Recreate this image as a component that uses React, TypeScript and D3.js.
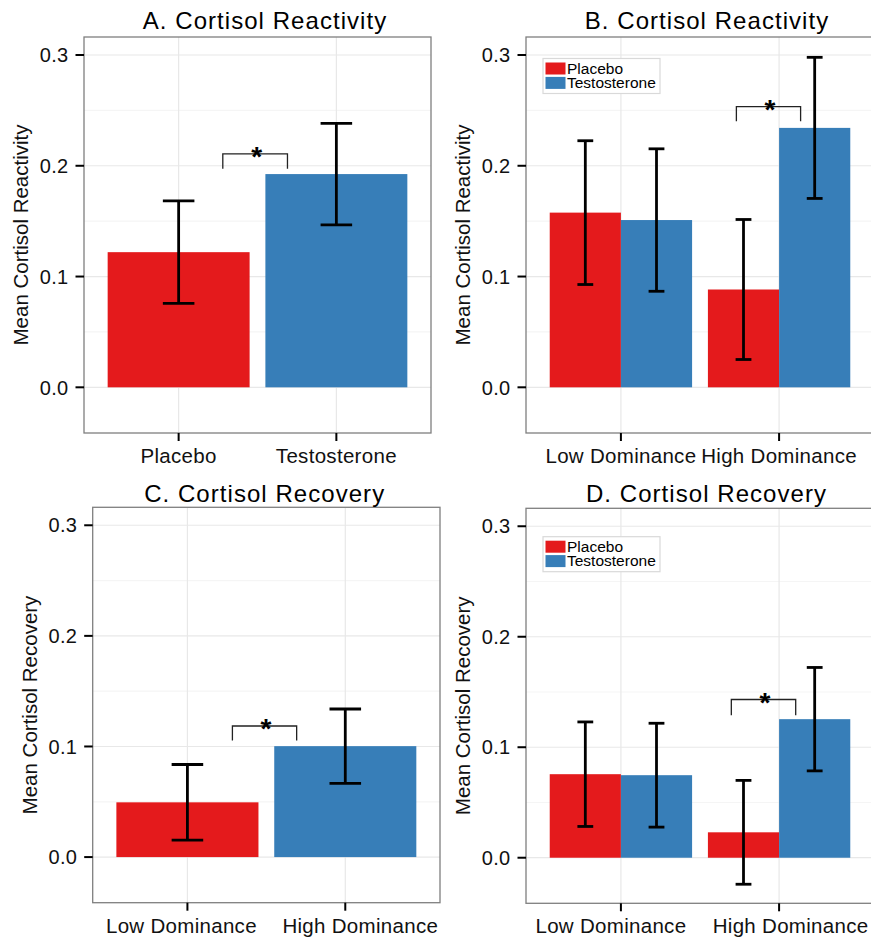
import React from "react";
import * as d3 from "d3";

// ---------- data ----------
const panelTitles = [
  "A. Cortisol Reactivity",
  "B. Cortisol Reactivity",
  "C. Cortisol Recovery",
  "D. Cortisol Recovery",
];
const yTitles = [
  "Mean Cortisol Reactivity",
  "Mean Cortisol Reactivity",
  "Mean Cortisol Recovery",
  "Mean Cortisol Recovery",
];
const yTicks = [0, 0.1, 0.2, 0.3];
const yMinor = [0.05, 0.15, 0.25];
const yLimits = [-0.025, 0.3];
const treatments = ["Placebo", "Testosterone"];
const dominance = ["Low Dominance", "High Dominance"];

// Panel A: by treatment
const aMeans = [0.122, 0.1925];
const aErrors = [0.0463, 0.0458];
// Panel B: dominance x treatment
const bPlacebo = [0.1577, 0.0883];
const bTestosterone = [0.151, 0.2342];
const bPlaceboErr = [0.0649, 0.0632];
const bTestosteroneErr = [0.0643, 0.0637];
// Panel C: by dominance
const cMeans = [0.0495, 0.1003];
const cErrors = [0.0342, 0.0336];
// Panel D: dominance x treatment
const dPlacebo = [0.0756, 0.023];
const dTestosterone = [0.0747, 0.1254];
const dPlaceboErr = [0.0473, 0.047];
const dTestosteroneErr = [0.047, 0.0468];

// significance brackets [x1, x2, yTop, yLeg] in data units
const brackets = [
  [1.28, 1.69, 0.2108, 0.1973],
  [1.73, 2.136, 0.2534, 0.2402],
  [1.285, 1.692, 0.1185, 0.1053],
  [1.698, 2.105, 0.1432, 0.129],
];

const colors = ["#E41A1C", "#377EB8"];
const FONT = "'Liberation Sans', Arial, Helvetica, sans-serif";

// ---------- layout ----------
const panels = [
  { left: 84, right: 431, top: 37, bottom: 433, tx: 265, ty: 28.5, ytx: 20, legend: null, lshift: [0, 0] },
  { left: 526, right: 874, top: 37, bottom: 433, tx: 707, ty: 29.3, ytx: 462, legend: [543, 58.5], lshift: [0, 0] },
  { left: 92.7, right: 440, top: 507.3, bottom: 902.7, tx: 264.7, ty: 501.7, ytx: 29, legend: null, lshift: [-6, 15] },
  { left: 526, right: 874, top: 508.3, bottom: 903.3, tx: 706.5, ty: 501.7, ytx: 462, legend: [543, 536.7], lshift: [-10, 11.5] },
];

type Bar = { x: number; w: number; v: number; e: number; c: string };

function buildBars(i: number): { bars: Bar[]; cats: string[]; capW: number } {
  if (i === 0)
    return {
      cats: treatments,
      capW: 0.2,
      bars: aMeans.map((v, k) => ({ x: k + 1, w: 0.9, v, e: aErrors[k], c: colors[k] })),
    };
  if (i === 2)
    return {
      cats: dominance,
      capW: 0.2,
      bars: cMeans.map((v, k) => ({ x: k + 1, w: 0.9, v, e: cErrors[k], c: colors[k] })),
    };
  const pl = i === 1 ? bPlacebo : dPlacebo;
  const te = i === 1 ? bTestosterone : dTestosterone;
  const ple = i === 1 ? bPlaceboErr : dPlaceboErr;
  const tee = i === 1 ? bTestosteroneErr : dTestosteroneErr;
  const bars: Bar[] = [];
  dominance.forEach((_, k) => {
    bars.push({ x: k + 1 - 0.225, w: 0.45, v: pl[k], e: ple[k], c: colors[0] });
    bars.push({ x: k + 1 + 0.225, w: 0.45, v: te[k], e: tee[k], c: colors[1] });
  });
  return { cats: dominance, capW: 0.1, bars };
}

function Panel({ i }: { i: number }) {
  const p = panels[i];
  const span = yLimits[1] - yLimits[0];
  const y = d3
    .scaleLinear()
    .domain([yLimits[0] - span * 0.05, yLimits[1] + span * 0.05])
    .range([p.bottom, p.top]);
  const x = d3.scaleLinear().domain([0.4, 2.6]).range([p.left, p.right]);
  const { bars, cats, capW } = buildBars(i);
  const br = brackets[i];
  const cy = (p.top + p.bottom) / 2;
  return (
    <g>
      {/* panel background + grid */}
      <rect x={p.left} y={p.top} width={p.right - p.left} height={p.bottom - p.top} fill="#fff" />
      {yMinor.map((t) => (
        <line key={"m" + t} x1={p.left} x2={p.right} y1={y(t)} y2={y(t)} stroke="#f5f5f5" strokeWidth={1.2} />
      ))}
      {yTicks.map((t) => (
        <line key={"g" + t} x1={p.left} x2={p.right} y1={y(t)} y2={y(t)} stroke="#e8e8e8" strokeWidth={1.2} />
      ))}
      {cats.map((c, k) => (
        <line key={"v" + c} x1={x(k + 1)} x2={x(k + 1)} y1={p.top} y2={p.bottom} stroke="#e8e8e8" strokeWidth={1.2} />
      ))}
      {/* bars */}
      {bars.map((b, k) => (
        <rect
          key={"b" + k}
          x={x(b.x - b.w / 2)}
          width={x(b.x + b.w / 2) - x(b.x - b.w / 2)}
          y={Math.min(y(b.v), y(0))}
          height={Math.abs(y(0) - y(b.v))}
          fill={b.c}
        />
      ))}
      {/* error bars */}
      {bars.map((b, k) => (
        <g key={"e" + k} stroke="#000" strokeWidth={2.8} fill="none">
          <line x1={x(b.x)} x2={x(b.x)} y1={y(b.v + b.e)} y2={y(b.v - b.e)} />
          <line x1={x(b.x - capW / 2)} x2={x(b.x + capW / 2)} y1={y(b.v + b.e)} y2={y(b.v + b.e)} />
          <line x1={x(b.x - capW / 2)} x2={x(b.x + capW / 2)} y1={y(b.v - b.e)} y2={y(b.v - b.e)} />
        </g>
      ))}
      {/* significance bracket */}
      <path
        d={`M${x(br[0])},${y(br[3])}V${y(br[2])}H${x(br[1])}V${y(br[3])}`}
        fill="none"
        stroke="#222"
        strokeWidth={1.3}
      />
      <text
        x={(x(br[0]) + x(br[1])) / 2 + 1.5}
        y={y(br[2]) + 12}
        textAnchor="middle"
        fontFamily={FONT}
        fontWeight="bold"
        fontSize={28}
        fill="#000"
      >
        *
      </text>
      {/* border */}
      <rect
        x={p.left}
        y={p.top}
        width={p.right - p.left}
        height={p.bottom - p.top}
        fill="none"
        stroke="#7f7f7f"
        strokeWidth={1.3}
      />
      {/* y axis */}
      {yTicks.map((t) => (
        <g key={"yt" + t}>
          <line x1={p.left - 8.5} x2={p.left} y1={y(t)} y2={y(t)} stroke="#000" strokeWidth={2} />
          <text
            x={p.left - 15.5}
            y={y(t)}
            dy="0.36em"
            textAnchor="end"
            fontFamily={FONT}
            fontSize={20}
            letterSpacing={0.3}
            fill="#111"
          >
            {d3.format(".1f")(t)}
          </text>
        </g>
      ))}
      {/* x axis */}
      {cats.map((c, k) => (
        <g key={"xt" + c}>
          <line x1={x(k + 1)} x2={x(k + 1)} y1={p.bottom} y2={p.bottom + 8} stroke="#000" strokeWidth={2} />
          <text
            x={x(k + 1) + p.lshift[k]}
            y={p.bottom + 30}
            textAnchor="middle"
            fontFamily={FONT}
            fontSize={20.5}
            letterSpacing={0.3}
            fill="#111"
          >
            {c}
          </text>
        </g>
      ))}
      {/* titles */}
      <text
        x={p.tx}
        y={p.ty}
        textAnchor="middle"
        fontFamily={FONT}
        fontSize={24}
        letterSpacing={1.05}
        fill="#000"
      >
        {panelTitles[i]}
      </text>
      <text
        transform={`translate(${p.ytx},${cy}) rotate(-90)`}
        textAnchor="middle"
        dominantBaseline="central"
        fontFamily={FONT}
        fontSize={20.5}
        fill="#111"
      >
        {yTitles[i]}
      </text>
      {/* legend */}
      {p.legend && (
        <g transform={`translate(${p.legend[0]},${p.legend[1]})`}>
          <rect x={0} y={0} width={117} height={35} fill="#fff" stroke="#d9d9d9" strokeWidth={1.2} />
          {treatments.map((t, k) => (
            <g key={"lg" + t} transform={`translate(2.5,${4 + k * 14.4})`}>
              <rect x={0} y={0} width={20} height={12} fill={colors[k]} />
              <text x={21.5} y={11} fontFamily={FONT} fontSize={15.5} fill="#000">
                {t}
              </text>
            </g>
          ))}
        </g>
      )}
    </g>
  );
}

export default function App() {
  return (
    <svg
      width={871}
      height={943}
      style={{ position: "absolute", left: 0, top: 0, background: "#fff" }}
    >
      <rect width={871} height={943} fill="#fff" />
      {panelTitles.map((_, i) => (
        <Panel key={i} i={i} />
      ))}
    </svg>
  );
}
